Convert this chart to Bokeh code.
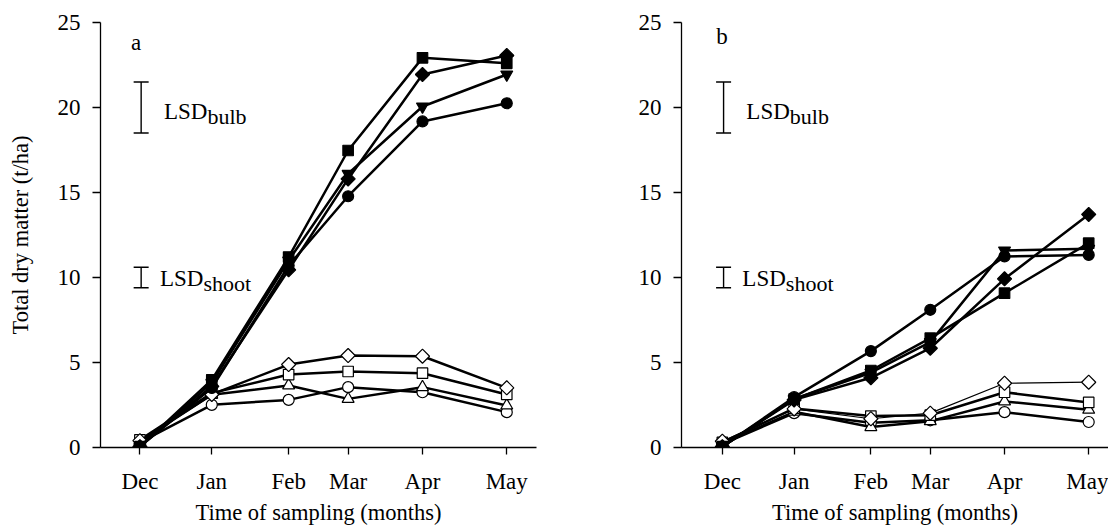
import numpy as np
from bokeh.plotting import figure
from bokeh.layouts import row
from bokeh.models import (ColumnDataSource, FixedTicker, Whisker, TeeHead, Label)
from bokeh.embed import file_html
from bokeh.resources import INLINE

# ---------------- data ----------------
months = ["Dec", "Jan", "Feb", "Mar", "Apr", "May"]
sample_day = [0, 29, 60, 84, 114, 148]   # days after first sampling

# panel a  (filled = bulb, open = shoot)
a_fill_square = [0.05, 3.98, 11.2, 17.47, 22.92, 22.6]
a_fill_diamond = [0.05, 3.6, 10.45, 15.8, 21.94, 23.06]
a_fill_invtri = [0.05, 3.8, 11.0, 16.1, 20.06, 21.94]
a_fill_circle = [0.05, 3.5, 10.7, 14.78, 19.18, 20.25]
a_open_diamond = [0.4, 3.12, 4.88, 5.41, 5.37, 3.51]
a_open_square = [0.45, 3.2, 4.29, 4.47, 4.37, 3.12]
a_open_triangle = [0.35, 3.1, 3.65, 2.86, 3.55, 2.47]
a_open_circle = [0.3, 2.51, 2.8, 3.55, 3.25, 2.08]

# panel b
b_fill_square = [0.05, 2.85, 4.53, 6.43, 9.08, 12.02]
b_fill_diamond = [0.05, 2.8, 4.1, 5.84, 9.92, 13.71]
b_fill_invtri = [0.05, 2.85, 4.4, 6.2, 11.59, 11.69]
b_fill_circle = [0.05, 2.96, 5.67, 8.1, 11.24, 11.33]
b_open_diamond = [0.37, 2.27, 1.69, 2.02, 3.78, 3.84]
b_open_square = [0.3, 2.3, 1.85, 1.9, 3.25, 2.65]
b_open_triangle = [0.25, 2.1, 1.2, 1.55, 2.71, 2.22]
b_open_circle = [0.2, 2.02, 1.45, 1.6, 2.08, 1.5]

# least significant differences (centre, size)
lsd_bulb_centre, lsd_bulb = 20.0, 3.0
lsd_shoot_centre, lsd_shoot = 10.0, 1.2

y_ticks = [0, 5, 10, 15, 20, 25]

FONT = "Liberation Serif"


def style_axes(p, ylabel):
    p.xaxis.ticker = FixedTicker(ticks=sample_day)
    p.xaxis.major_label_overrides = {d: m for d, m in zip(sample_day, months)}
    p.yaxis.ticker = FixedTicker(ticks=y_ticks)
    for ax in (p.xaxis[0], p.yaxis[0]):
        ax.axis_line_color = "black"
        ax.axis_line_width = 1.3
        ax.major_tick_line_color = "black"
        ax.major_tick_line_width = 1.3
        ax.major_tick_in = 0
        ax.minor_tick_in = 0
        ax.minor_tick_out = 0
        ax.major_label_text_font = FONT
        ax.major_label_text_font_size = "23px"
        ax.major_label_text_color = "black"
        ax.axis_label_text_font = FONT
        ax.axis_label_text_font_size = "22.5px"
        ax.axis_label_text_font_style = "normal"
        ax.axis_label_text_color = "black"
    p.xaxis.major_tick_out = 7
    p.yaxis.major_tick_out = 8
    p.xaxis.major_label_standoff = 14
    p.yaxis.major_label_standoff = 12
    p.xaxis.axis_label = "Time of sampling (months)"
    p.xaxis.axis_label_standoff = 3
    if ylabel:
        p.yaxis.axis_label = ylabel
        p.yaxis.axis_label_standoff = 22
    p.xgrid.visible = False
    p.ygrid.visible = False
    p.outline_line_color = None


def add_series(p, ys, marker, filled, size, lw=2.5, angle=0.0):
    src = ColumnDataSource(dict(x=sample_day, y=ys))
    p.line("x", "y", source=src, line_color="black", line_width=lw)
    p.scatter("x", "y", source=src, marker=marker, size=size, angle=angle,
              fill_color="black" if filled else "white",
              line_color="black", line_width=1.2)


LBL_SHIFT = 0.38   # lift text labels (data units) so they sit like the original


def add_lsd(p):
    src = ColumnDataSource(dict(
        base=[0.5, 0.5],
        upper=[lsd_bulb_centre + lsd_bulb / 2, lsd_shoot_centre + lsd_shoot / 2],
        lower=[lsd_bulb_centre - lsd_bulb / 2, lsd_shoot_centre - lsd_shoot / 2]))
    w = Whisker(source=src, base="base", upper="upper", lower="lower",
                dimension="height", line_color="black", line_width=1.4,
                upper_head=TeeHead(size=15, line_color="black", line_width=1.4),
                lower_head=TeeHead(size=15, line_color="black", line_width=1.4))
    p.add_layout(w)
    common = dict(text_font=FONT, text_color="black", text_baseline="alphabetic",
                  text_align="left")
    p.add_layout(Label(x=0, y=19.39 + LBL_SHIFT, x_offset=24, text="LSD",
                       text_font_size="23px", **common))
    p.add_layout(Label(x=0, y=19.08 + LBL_SHIFT, x_offset=67.5, text="bulb",
                       text_font_size="22px", **common))
    p.add_layout(Label(x=0, y=9.59 + LBL_SHIFT, x_offset=20, text="LSD",
                       text_font_size="23px", **common))
    p.add_layout(Label(x=0, y=9.28 + LBL_SHIFT, x_offset=63.5, text="shoot",
                       text_font_size="22px", **common))


def make_panel(letter, letter_off, letter_y, fills, opens, width, x_start, x_end,
               border_left, border_right, ylabel, diamond_lw):
    p = figure(width=width, height=527, x_range=(x_start, x_end), y_range=(0, 25),
               output_backend="svg", toolbar_location=None,
               min_border_left=border_left, min_border_right=border_right,
               min_border_top=22, min_border_bottom=80,
               background_fill_color="white", border_fill_color="white")
    style_axes(p, ylabel)
    add_lsd(p)
    p.add_layout(Label(x=0, y=letter_y + LBL_SHIFT, x_offset=letter_off, text=letter,
                       text_font=FONT, text_font_size="23px", text_color="black",
                       text_baseline="alphabetic"))
    od, osq, otr, oci = opens
    add_series(p, oci, "circle", False, 11)
    add_series(p, otr, "triangle", False, 12)
    add_series(p, osq, "square", False, 10.5)
    add_series(p, od, "square", False, 10, lw=diamond_lw, angle=np.pi / 4)
    fsq, fdi, ftr, fci = fills
    add_series(p, fci, "circle", True, 11)
    add_series(p, ftr, "inverted_triangle", True, 12)
    add_series(p, fdi, "square", True, 10, angle=np.pi / 4)
    add_series(p, fsq, "square", True, 10.5)
    return p


pa = make_panel("a", -9, 23.45,
                (a_fill_square, a_fill_diamond, a_fill_invtri, a_fill_circle),
                (a_open_diamond, a_open_square, a_open_triangle, a_open_circle),
                width=560, x_start=-15.9, x_end=160.0, border_left=100, border_right=24,
                ylabel="Total dry matter (t/ha)", diamond_lw=2.5)

pb = make_panel("b", -6, 23.8,
                (b_fill_square, b_fill_diamond, b_fill_invtri, b_fill_circle),
                (b_open_diamond, b_open_square, b_open_triangle, b_open_circle),
                width=548, x_start=-16.5, x_end=156.0, border_left=121, border_right=0,
                ylabel=None, diamond_lw=1.2)

layout = row(pa, pb)
open("out.html", "w").write(file_html(layout, INLINE))
